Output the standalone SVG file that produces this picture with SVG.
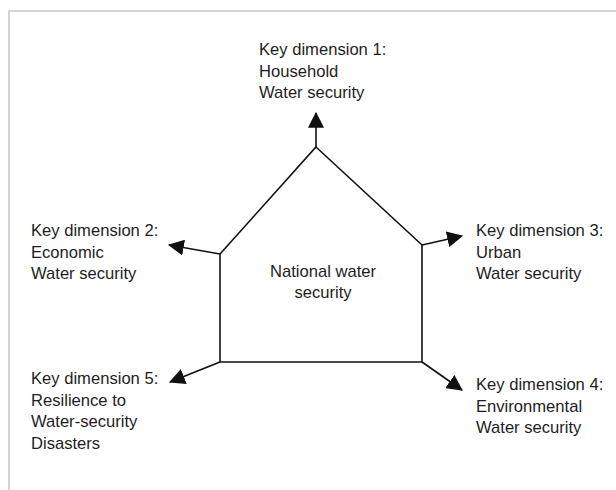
<svg xmlns="http://www.w3.org/2000/svg" width="616" height="490" viewBox="0 0 616 490">
<defs>
<style>
.t{font-family:"Liberation Sans",Arial,sans-serif;font-size:16.6px;fill:#1e1e1e}
.c{text-anchor:middle}
.ln{stroke:#111;stroke-width:1.6;fill:none}
.frame{stroke:#c8c8c8;stroke-width:1.6;fill:none}
</style>
<marker id="ah" markerUnits="userSpaceOnUse" markerWidth="16" markerHeight="16" viewBox="0 0 14 14" refX="13" refY="7" orient="auto">
<path d="M0,0 L14,7 L0,14 z" fill="#111"/>
</marker>
</defs>
<rect width="616" height="490" fill="#fff"/>
<path class="frame" d="M9,490 L9,11 L616,11"/>
<g id="national">
<polygon class="ln" points="316,147 422,245 422,362 220,362 220,254"/>
<text class="t c" x="323" y="277">National water</text>
<text class="t c" x="323" y="298">security</text>
</g>
<g id="connectors">
<line class="ln" x1="316" y1="147" x2="316" y2="113" marker-end="url(#ah)"/>
<line class="ln" x1="220" y1="254" x2="169" y2="245" marker-end="url(#ah)"/>
<line class="ln" x1="422" y1="245" x2="462" y2="236" marker-end="url(#ah)"/>
<line class="ln" x1="422" y1="362" x2="462" y2="390" marker-end="url(#ah)"/>
<line class="ln" x1="220" y1="362" x2="170" y2="382" marker-end="url(#ah)"/>
</g>
<g id="dim1">
<text class="t" x="259" y="55">Key dimension 1:</text>
<text class="t" x="259" y="76.5">Household</text>
<text class="t" x="259" y="98">Water security</text>
</g>
<g id="dim2">
<text class="t" x="31" y="236">Key dimension 2:</text>
<text class="t" x="31" y="257.5">Economic</text>
<text class="t" x="31" y="279">Water security</text>
</g>
<g id="dim3">
<text class="t" x="476" y="236">Key dimension 3:</text>
<text class="t" x="476" y="257.5">Urban</text>
<text class="t" x="476" y="279">Water security</text>
</g>
<g id="dim4">
<text class="t" x="476" y="390">Key dimension 4:</text>
<text class="t" x="476" y="411.5">Environmental</text>
<text class="t" x="476" y="433">Water security</text>
</g>
<g id="dim5">
<text class="t" x="31" y="384">Key dimension 5:</text>
<text class="t" x="31" y="405.5">Resilience to</text>
<text class="t" x="31" y="427">Water-security</text>
<text class="t" x="31" y="448.5">Disasters</text>
</g>
</svg>
